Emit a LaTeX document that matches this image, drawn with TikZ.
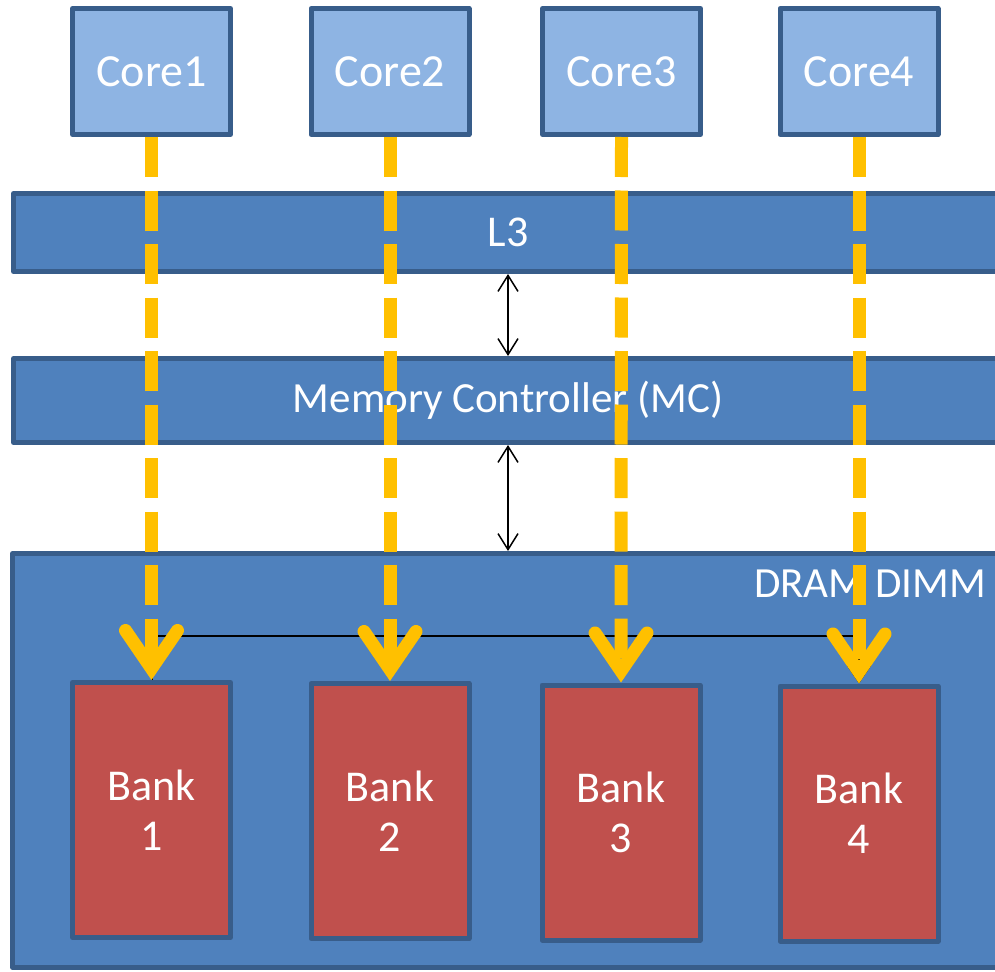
\documentclass[tikz,border=0pt]{standalone}
\usepackage{fontspec}
\setmainfont{Carlito}
\usetikzlibrary{arrows.meta}
\definecolor{coref}{HTML}{8EB4E3}
\definecolor{barf}{HTML}{4F81BD}
\definecolor{edgeb}{HTML}{385D8A}
\definecolor{bankf}{HTML}{C0504D}
\definecolor{yel}{HTML}{FFC000}
\tikzset{
  lbl/.style={text=white, font=\fontsize{44}{50}\selectfont},
  corebox/.style={lbl, font=\fontsize{46}{50}\selectfont, draw=edgeb, fill=coref, line width=5pt, line join=round, minimum width=158pt, minimum height=126pt, inner sep=0pt},
  barbox/.style={lbl, draw=edgeb, fill=barf, line width=5pt, line join=round, minimum width=989pt, inner sep=0pt},
  bankbox/.style={lbl, draw=edgeb, fill=bankf, line width=5pt, line join=round, minimum width=158pt, minimum height=255pt, inner sep=0pt, align=center},
  yarrow/.style={draw=yel, line width=13pt, dash pattern=on 40pt off 13.5pt, -{Straight Barb[length=38pt, width=52pt, line cap=round, line join=miter]}},
  darrow/.style={draw=black, line width=1.5pt, {Straight Barb[length=16pt, width=20pt]}-{Straight Barb[length=16pt, width=20pt]}},
  bconn/.style={draw=black, line width=2pt, -{Triangle[length=18pt, width=24pt]}}
}
\begin{document}
\begin{tikzpicture}[x=1pt, y=-1pt]
\useasboundingbox (0,0) rectangle (995,971);
\clip (0,0) rectangle (995,971);
% bars
\node[barbox, minimum height=78pt] (L3) at (508,232.5) {L3};
\node[barbox, minimum height=84pt, font=\fontsize{43}{50}\selectfont] (MC) at (508,400.5) {Memory Controller (MC)};
\node[barbox, minimum height=414pt, minimum width=991pt] (DRAM) at (508,760.5) {};
\node[lbl, font=\fontsize{43}{50}\selectfont] (dramlbl) at (870,584) {DRAM DIMM};
% cores
\node[corebox] (c1) at (151.5,71.5) {Core1};
\node[corebox] (c2) at (390,71.5) {Core2};
\node[corebox] (c3) at (621.5,71.5) {Core3};
\node[corebox] (c4) at (859,71.5) {Core4};
% banks
\node[bankbox] (b1) at (151.5,810) {Bank\\1};
\node[bankbox] (b2) at (390,811) {Bank\\2};
\node[bankbox] (b3) at (621,812.5) {Bank\\3};
\node[bankbox] (b4) at (859,813.5) {Bank\\4};
% double arrows
\draw[darrow] (L3.south) -- (MC.north);
\draw[darrow] (MC.south) -- (DRAM.north);
% black connector
\coordinate (elb) at (151.5,636);
\draw[bconn] (b1.north) -- (elb) -| (b4.north);
% yellow arrows
\draw[yarrow] (c1.south) -- (b1.north);
\draw[yarrow] (c2.south) -- (b2.north);
\draw[yarrow] (c3.south) -- (b3.north);
\draw[yarrow] (c4.south) -- (b4.north);
\end{tikzpicture}
\end{document}
